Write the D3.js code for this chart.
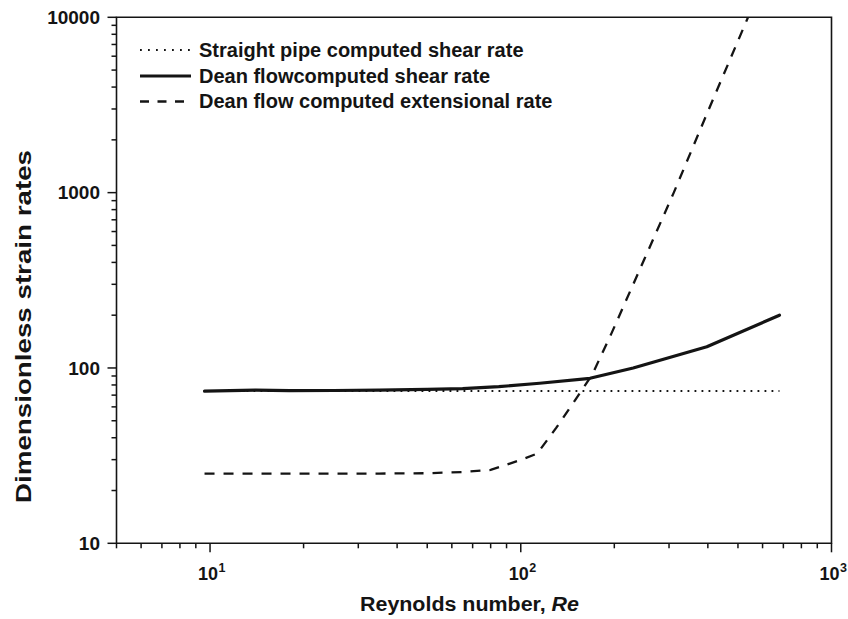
<!DOCTYPE html>
<html>
<head>
<meta charset="utf-8">
<script src="https://cdn.jsdelivr.net/npm/d3@7"></script>
<style>
  html, body { margin: 0; padding: 0; background: #fff; }
  svg { display: block; font-family: "Liberation Sans", Arial, Helvetica, sans-serif; }
</style>
</head>
<body>
<svg id="chart" width="848" height="619"></svg>
<script>
// ---- data ----
const straightRe  = [9.6, 680];
const straightVal = [74, 74];

const deanShearRe  = [9.6, 14, 18, 25, 35, 50, 65, 85, 115, 167, 230, 270, 397, 680];
const deanShearVal = [73.8, 74.8, 74.2, 74.4, 74.8, 75.4, 76.2, 78.2, 81.8, 87.3, 100, 108.6, 132, 200];

const deanExtRe  = [9.6, 13, 18, 25, 35, 50, 65, 80, 100, 113, 130, 150, 170, 196, 250, 310, 400, 540, 680];
const deanExtVal = [25, 25, 25, 25, 25, 25.1, 25.5, 26.2, 29.9, 32.5, 45.5, 66, 92, 158, 418, 990, 2900, 10100, 26800];

const xMajorTicks = [10, 100, 1000];
const xMajorExp   = ["1", "2", "3"];
const yMajorTicks = [10, 100, 1000, 10000];
const yTickLabels = ["10", "100", "1000", "10000"];

const legendLabels = [
  "Straight pipe computed shear rate",
  "Dean flowcomputed shear rate",
  "Dean flow computed extensional rate"
];
const xTitle = "Reynolds number, ";
const xTitleItalic = "Re";
const yTitle = "Dimensionless strain rates";

// ---- layout ----
const L = 116.5, R = 831.5, T = 17.3, B = 543.3;
const ink = "#141414";
const svg = d3.select("#chart");

const x = d3.scaleLog().domain([5, 1000]).range([L, R]);
const y = d3.scaleLog().domain([10, 10000]).range([B, T]);

const minorX = [];
[1, 10, 100].forEach(d => { for (let k = 2; k <= 9; k++) { const v = d * k; if (v >= 5 && v < 1000) minorX.push(v); } });
const minorY = [];
[10, 100, 1000].forEach(d => { for (let k = 2; k <= 9; k++) minorY.push(d * k); });

// clip
svg.append("defs").append("clipPath").attr("id", "plotclip")
  .append("rect").attr("x", L).attr("y", T).attr("width", R - L).attr("height", B - T);

// frame
const frame = svg.append("g").attr("stroke", ink).attr("stroke-width", 1.6).attr("fill", "none");
frame.append("path").attr("d", `M${L},${T}H${R}V${B}H${L}Z`);

// x ticks
const xt = svg.append("g").attr("stroke", ink).attr("stroke-width", 1.5);
xt.selectAll("line.minor").data(minorX).join("line")
  .attr("x1", d => x(d)).attr("x2", d => x(d)).attr("y1", B).attr("y2", B + 5);
xt.selectAll("line.major").data(xMajorTicks).join("line")
  .attr("x1", d => x(d)).attr("x2", d => x(d)).attr("y1", B).attr("y2", B + 9);

// y ticks
const yt = svg.append("g").attr("stroke", ink).attr("stroke-width", 1.5);
yt.selectAll("line.minor").data(minorY).join("line")
  .attr("x1", L - 5).attr("x2", L).attr("y1", d => y(d)).attr("y2", d => y(d));
yt.selectAll("line.major").data(yMajorTicks).join("line")
  .attr("x1", L - 9).attr("x2", L).attr("y1", d => y(d)).attr("y2", d => y(d));

// y tick labels
svg.append("g").selectAll("text").data(yMajorTicks).join("text")
  .attr("x", 100).attr("y", d => y(d)).attr("dy", "0.36em")
  .attr("text-anchor", "end").attr("font-size", 19).attr("font-weight", "bold").attr("fill", ink)
  .text((d, i) => yTickLabels[i]);

// x tick labels (10^n)
const xl = svg.append("g").selectAll("text").data(xMajorTicks).join("text")
  .attr("x", d => x(d) - 12).attr("y", 580)
  .attr("font-weight", "bold").attr("fill", ink);
xl.append("tspan").attr("font-size", 18).text("10");
xl.append("tspan").attr("font-size", 12.5).attr("dx", 0.5).attr("dy", -8).text((d, i) => xMajorExp[i]);

// axis titles
const xt2 = svg.append("text").attr("x", 360).attr("y", 610.5)
  .attr("font-size", 20).attr("font-weight", "bold").attr("fill", ink)
  .attr("textLength", 219).attr("lengthAdjust", "spacingAndGlyphs");
xt2.append("tspan").text(xTitle);
xt2.append("tspan").attr("font-style", "italic").text(xTitleItalic);

svg.append("text")
  .attr("transform", `translate(31,${503}) rotate(-90)`)
  .attr("font-size", 22).attr("font-weight", "bold").attr("fill", ink)
  .attr("textLength", 353).attr("lengthAdjust", "spacingAndGlyphs")
  .text(yTitle);

// series lines
const line = d3.line().x(d => x(d[0])).y(d => y(d[1]));
const plot = svg.append("g").attr("clip-path", "url(#plotclip)").attr("fill", "none");

plot.append("path")
  .datum(straightRe.map((r, i) => [r, straightVal[i]]))
  .attr("d", line).attr("stroke", ink).attr("stroke-width", 2)
  .attr("stroke-dasharray", "1.8,5.2");

plot.append("path")
  .datum(deanExtRe.map((r, i) => [r, deanExtVal[i]]))
  .attr("d", line).attr("stroke", ink).attr("stroke-width", 2.3)
  .attr("stroke-dasharray", "10,9");

plot.append("path")
  .datum(deanShearRe.map((r, i) => [r, deanShearVal[i]]))
  .attr("d", line).attr("stroke", ink).attr("stroke-width", 3.2)
  .attr("stroke-linejoin", "round").attr("stroke-linecap", "round");

// legend
const legY = [50, 76, 101.5];
const legText = [56.8, 82.6, 108.3];
const legStyles = [
  { w: 2, dash: "1.8,6.2" },
  { w: 3.2, dash: null },
  { w: 2.3, dash: "9,8.5" }
];
const leg = svg.append("g");
legendLabels.forEach((lab, i) => {
  const s = legStyles[i];
  const ln = leg.append("line").attr("x1", 140).attr("x2", 191)
    .attr("y1", legY[i]).attr("y2", legY[i]).attr("stroke", ink).attr("stroke-width", s.w);
  if (s.dash) ln.attr("stroke-dasharray", s.dash);
  leg.append("text").attr("x", 199).attr("y", legText[i])
    .attr("font-size", 20).attr("font-weight", "bold").attr("fill", ink).text(lab);
});
</script>
</body>
</html>
